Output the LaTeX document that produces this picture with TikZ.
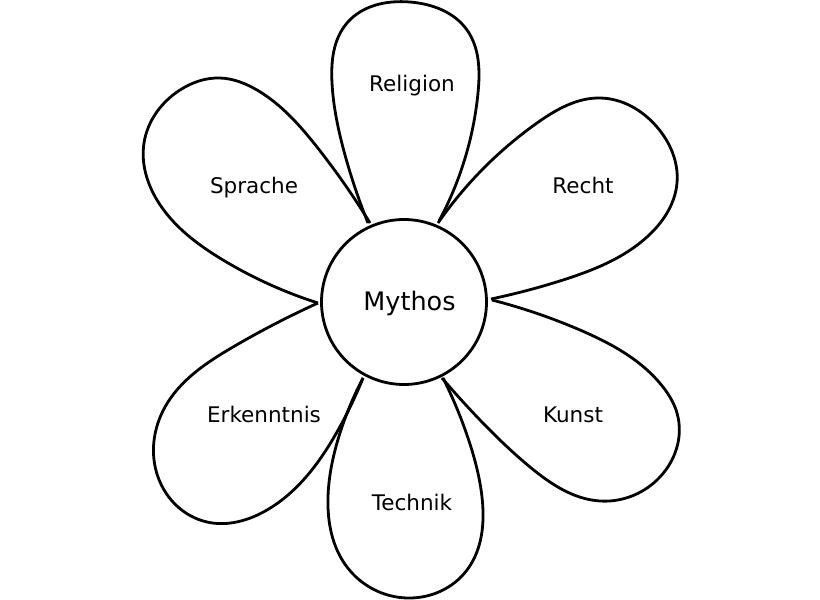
\documentclass[tikz,border=0pt]{standalone}
\usepackage{fontspec}
\setmainfont{DejaVu Sans}
\usetikzlibrary{hobby}
\begin{document}
\begin{tikzpicture}[x=1pt,y=-1pt,
  petal/.style={draw=black,line width=2.8pt,line join=round,use Hobby shortcut},
  lbl/.style={font=\fontsize{21.5}{24}\selectfont,inner sep=0pt,anchor=base}]
\useasboundingbox[fill=white] (0,0) rectangle (820,600);
% Religion
\draw[petal] (368,223) .. (345,155) .. (332,83) .. (347,23) .. (410,2) .. (467,30) .. (478,93) .. (466,155) .. (439,221);
% Recht
\draw[petal] (438,223) .. (478,174) .. (537,123) .. (600,98) .. (657,127) .. (677,183) .. (647,237) .. (563,280) .. (491,299);
% Kunst
\draw[petal] (492,300) .. (580,330) .. (663,387) .. (677,413) .. (657,480) .. (600,501) .. (530,467) .. (480,420) .. (442,378);
% Technik
\draw[petal] (443,378) .. (469,441) .. (482,497) .. (467,570) .. (407,598) .. (347,567) .. (328,497) .. (340,433) .. (363,378);
% Erkenntnis
\draw[petal] (363,378) .. (337,432) .. (267,510) .. (207,522) .. (158,477) .. (165,407) .. (233,347) .. (318,303);
% Sprache
\draw[petal] (318,303) .. (223,260) .. (157,200) .. (144,143) .. (180,90) .. (220,78) .. (257,90) .. (317,147) .. (370,223);
\node[circle,draw=black,fill=white,line width=2.8pt,minimum size=165pt,inner sep=0pt] (mythos) at (404,302) {};
\node[font=\fontsize{25.5}{28}\selectfont,inner sep=0pt,anchor=base] (mythoslbl) at (409.5,310) {Mythos};
\node[lbl] (religion) at (412,91) {Religion};
\node[lbl] (recht) at (583,193) {Recht};
\node[lbl] (kunst) at (573,422) {Kunst};
\node[lbl] (technik) at (412,510) {Technik};
\node[lbl] (erkenntnis) at (264,422) {Erkenntnis};
\node[lbl] (sprache) at (254,193) {Sprache};
\end{tikzpicture}
\end{document}
